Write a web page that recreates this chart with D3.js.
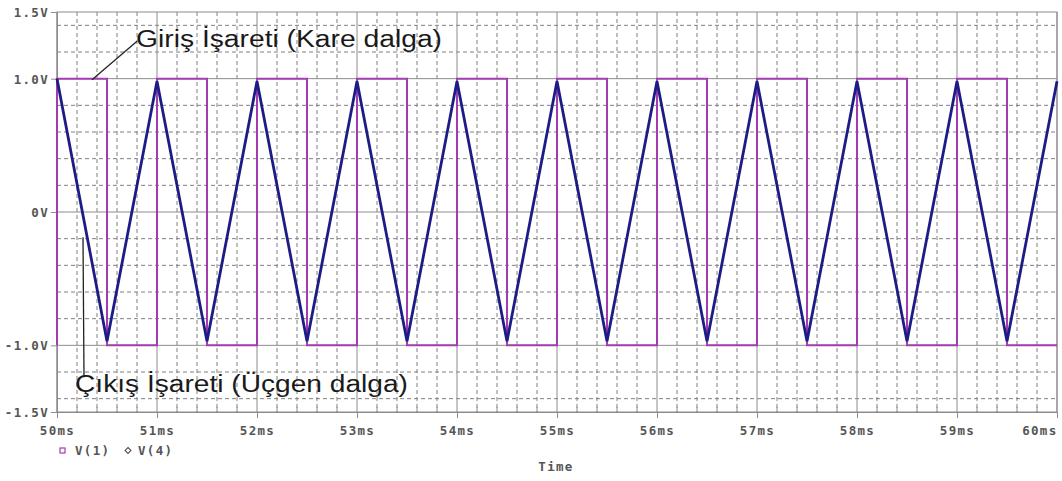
<!DOCTYPE html>
<html>
<head>
<meta charset="utf-8">
<script src="https://cdn.jsdelivr.net/npm/d3@7"></script>
<style>
html,body{margin:0;padding:0;background:#fff;}
svg{display:block;}
.tick text{font-family:"DejaVu Sans Mono",monospace;font-weight:bold;font-size:12.5px;fill:#555;letter-spacing:1.3px;}
</style>
</head>
<body>
<svg id="chart" width="1062" height="481"></svg>
<script>
// ---- data ----
const xTickValues = [50, 51, 52, 53, 54, 55, 56, 57, 58, 59, 60];
const xTickLabels = ["50ms","51ms","52ms","53ms","54ms","55ms","56ms","57ms","58ms","59ms","60ms"];
const yTickValues = [-1.5, -1.0, 0, 1.0, 1.5];
const yTickLabels = ["-1.5V","-1.0V","0V","1.0V","1.5V"];
const yMajorGrid = [-1.0, 0, 1.0];

// V(1): square wave input (time in ms, value in V)
const sqTime = [50, 50, 50.5, 51, 51.5, 52, 52.5, 53, 53.5, 54, 54.5, 55, 55.5, 56, 56.5, 57, 57.5, 58, 58.5, 59, 59.5, 60];
const sqV    = [-1, 1, -1, 1, -1, 1, -1, 1, -1, 1, -1, 1, -1, 1, -1, 1, -1, 1, -1, 1, -1, -1];

// V(4): triangle wave output
const triTime = [50, 50.5, 51, 51.5, 52, 52.5, 53, 53.5, 54, 54.5, 55, 55.5, 56, 56.5, 57, 57.5, 58, 58.5, 59, 59.5, 60];
const triV    = [1.0, -0.97, 0.98, -0.97, 0.98, -0.97, 0.98, -0.97, 0.98, -0.97, 0.98, -0.97, 0.98, -0.97, 0.98, -0.97, 0.98, -0.97, 0.98, -0.97, 0.98];

const legendNames = ["V(1)", "V(4)"];
const xTitle = "Time";
const annotInput = "Giriş İşareti (Kare dalga)";
const annotOutput = "Çıkış İşareti (Üçgen dalga)";

// ---- layout ----
const svg = d3.select("#chart");
const x = d3.scaleLinear().domain([50, 60]).range([57, 1057]);
const y = d3.scaleLinear().domain([-1.5, 1.5]).range([412, 12]);

const sqColor = "#a33cb0";
const triColor = "#1c1c86";

// minor grid
const xMinor = d3.range(50, 60.0001, 0.2).filter(v => Math.abs(v - Math.round(v)) > 1e-6);
const yMinor = d3.range(-1.4, 1.4001, 0.2).filter(v => !yMajorGrid.some(m => Math.abs(m - v) < 1e-6));
const grid = svg.append("g");
grid.selectAll(".vmin").data(xMinor).join("line")
  .attr("x1", d => x(d)).attr("x2", d => x(d)).attr("y1", y(1.5)).attr("y2", y(-1.5))
  .attr("stroke", "#808080").attr("stroke-width", 1).attr("stroke-dasharray", "4,3");
grid.selectAll(".hmin").data(yMinor).join("line")
  .attr("x1", x(50)).attr("x2", x(60)).attr("y1", d => y(d)).attr("y2", d => y(d))
  .attr("stroke", "#808080").attr("stroke-width", 1).attr("stroke-dasharray", "4,3");
// major grid
grid.selectAll(".vmaj").data(xTickValues).join("line")
  .attr("x1", d => x(d)).attr("x2", d => x(d)).attr("y1", y(1.5)).attr("y2", y(-1.5))
  .attr("stroke", "#8c8c8c").attr("stroke-width", 1);
grid.selectAll(".hmaj").data(yMajorGrid).join("line")
  .attr("x1", x(50)).attr("x2", x(60)).attr("y1", d => y(d)).attr("y2", d => y(d))
  .attr("stroke", "#8c8c8c").attr("stroke-width", 1);
// frame
svg.append("rect").attr("x", x(50)).attr("y", y(1.5)).attr("width", x(60) - x(50)).attr("height", y(-1.5) - y(1.5))
  .attr("fill", "none").attr("stroke", "#8c8c8c").attr("stroke-width", 1);

// minor tick marks (solid short)
svg.append("g").selectAll("line").data(xMinor).join("line")
  .attr("x1", d => x(d)).attr("x2", d => x(d)).attr("y1", y(-1.5)).attr("y2", y(-1.5) - 5)
  .attr("stroke", "#8c8c8c");

// axes
const xAxis = d3.axisBottom(x).tickValues(xTickValues).tickFormat((d, i) => xTickLabels[i]).tickSize(6).tickPadding(8);
const gx = svg.append("g").attr("transform", `translate(0,${y(-1.5)})`).call(xAxis);
gx.select(".domain").attr("stroke", "#8c8c8c");
gx.selectAll(".tick line").attr("stroke", "#8c8c8c");
gx.selectAll(".tick text").filter(d => d === 60).attr("text-anchor", "end").attr("x", 0);

const yAxis = d3.axisLeft(y).tickValues(yTickValues).tickFormat((d, i) => yTickLabels[i]).tickSize(6).tickPadding(2);
const gy = svg.append("g").attr("transform", `translate(${x(50)},0)`).call(yAxis);
gy.select(".domain").attr("stroke", "#8c8c8c");
gy.selectAll(".tick line").attr("stroke", "#8c8c8c");
gy.selectAll(".tick text").attr("dy", "0.36em");

// series
const sqData = sqTime.map((t, i) => [t, sqV[i]]);
const triData = triTime.map((t, i) => [t, triV[i]]);
svg.append("path").datum(sqData)
  .attr("d", d3.line().x(d => x(d[0])).y(d => y(d[1])).curve(d3.curveStepAfter))
  .attr("fill", "none").attr("stroke", sqColor).attr("stroke-width", 2);
svg.append("path").datum(triData)
  .attr("d", d3.line().x(d => x(d[0])).y(d => y(d[1])))
  .attr("fill", "none").attr("stroke", triColor).attr("stroke-width", 2.8).attr("stroke-linejoin", "miter");

// annotations
svg.append("line").attr("x1", x(50.35)).attr("y1", y(1.0) + 1).attr("x2", x(50.8)).attr("y2", y(1.28))
  .attr("stroke", "#222").attr("stroke-width", 1.3);
svg.append("text").attr("x", 136).attr("y", 47).text(annotInput)
  .attr("font-family", "'Liberation Sans', Arial, sans-serif").attr("font-size", 23).attr("fill", "#1a1a1a")
  .attr("textLength", 306).attr("lengthAdjust", "spacingAndGlyphs");
svg.append("line").attr("x1", x(50.26)).attr("y1", y(-0.19)).attr("x2", x(50.27)).attr("y2", y(-1.24))
  .attr("stroke", "#222").attr("stroke-width", 1.3);
svg.append("text").attr("x", 75).attr("y", 392).text(annotOutput)
  .attr("font-family", "'Liberation Sans', Arial, sans-serif").attr("font-size", 23).attr("fill", "#1a1a1a")
  .attr("textLength", 333).attr("lengthAdjust", "spacingAndGlyphs");

// legend
const lg = svg.append("g").attr("font-family", "'DejaVu Sans Mono', monospace").attr("font-weight", "bold")
  .attr("font-size", 12.5).attr("fill", "#555").attr("letter-spacing", "1.3px");
lg.append("rect").attr("x", 60).attr("y", 448).attr("width", 5).attr("height", 5)
  .attr("fill", "none").attr("stroke", sqColor).attr("stroke-width", 1.2);
lg.append("text").attr("x", 75).attr("y", 455).text(legendNames[0]);
lg.append("path").attr("d", "M128,447.5 L131,450.5 L128,453.5 L125,450.5 Z")
  .attr("fill", "none").attr("stroke", "#555").attr("stroke-width", 1.1);
lg.append("text").attr("x", 138).attr("y", 455).text(legendNames[1]);

svg.append("text").attr("x", 556).attr("y", 471).attr("text-anchor", "middle").text(xTitle)
  .attr("font-family", "'DejaVu Sans Mono', monospace").attr("font-weight", "bold")
  .attr("font-size", 12.5).attr("fill", "#555").attr("letter-spacing", "1.3px");
</script>
</body>
</html>
